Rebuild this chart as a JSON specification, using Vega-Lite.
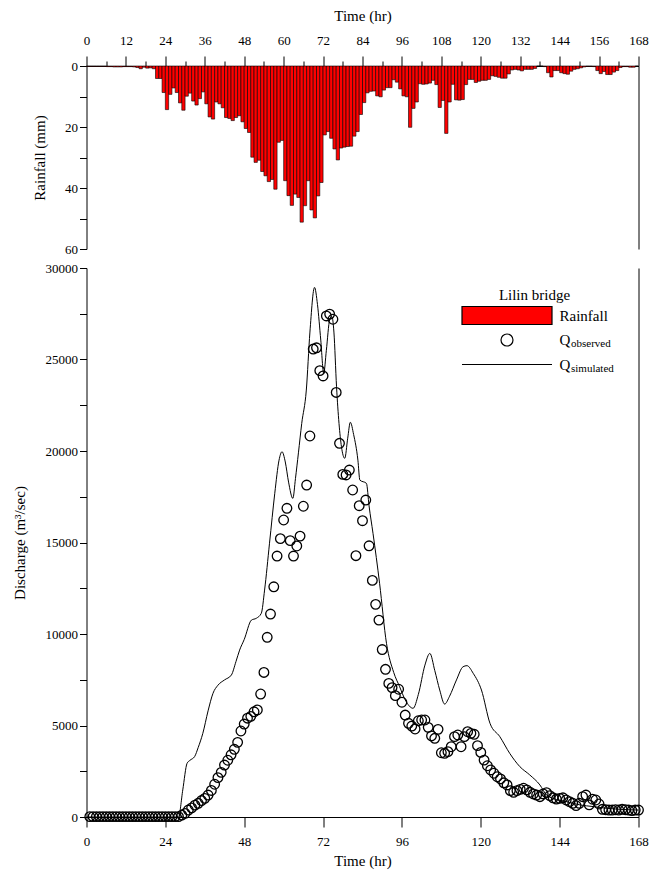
{
  "$schema": "https://vega.github.io/schema/vega-lite/v6.json",
  "background": "white",
  "padding": {"left": 11.5, "top": 8, "right": 5, "bottom": 5},
  "config": {
    "font": "Liberation Serif",
    "view": {"stroke": null},
    "axis": {"labelFont": "Liberation Serif", "titleFont": "Liberation Serif", "labelFontSize": 13, "titleFontSize": 15, "titleFontWeight": "normal", "labelColor": "black", "titleColor": "black", "domainColor": "black", "tickColor": "black", "grid": false, "domainWidth": 1, "tickWidth": 1}
  },
  "bounds": "flush",
  "spacing": 19,
  "resolve": {"scale": {"stroke": "independent", "fill": "independent", "shape": "independent", "opacity": "independent"}},
  "datasets": {
    "rain": [
      {"start":0,"end":1,"rain":0.1},{"start":1,"end":2,"rain":0.1},{"start":2,"end":3,"rain":0.1},{"start":3,"end":4,"rain":0.1},{"start":4,"end":5,"rain":0.1},{"start":5,"end":6,"rain":0.1},{"start":6,"end":7,"rain":0.2},{"start":7,"end":8,"rain":0.2},{"start":8,"end":9,"rain":0.3},{"start":9,"end":10,"rain":0.3},
      {"start":10,"end":11,"rain":0.3},{"start":11,"end":12,"rain":0.2},{"start":12,"end":13,"rain":0.2},{"start":13,"end":14,"rain":0.2},{"start":14,"end":15,"rain":0.3},{"start":15,"end":16,"rain":0.5},{"start":16,"end":17,"rain":0.9},{"start":17,"end":18,"rain":0.4},{"start":18,"end":19,"rain":0.7},{"start":19,"end":20,"rain":0.6},
      {"start":20,"end":21,"rain":0.9},{"start":21,"end":22,"rain":4.1},{"start":22,"end":23,"rain":4.1},{"start":23,"end":24,"rain":8.7},{"start":24,"end":25,"rain":14.3},{"start":25,"end":26,"rain":9.3},{"start":26,"end":27,"rain":7.2},{"start":27,"end":28,"rain":8.7},{"start":28,"end":29,"rain":12.1},{"start":29,"end":30,"rain":14.5},
      {"start":30,"end":31,"rain":9.9},{"start":31,"end":32,"rain":8.9},{"start":32,"end":33,"rain":11.5},{"start":33,"end":34,"rain":12.8},{"start":34,"end":35,"rain":10.7},{"start":35,"end":36,"rain":8.5},{"start":36,"end":37,"rain":12.4},{"start":37,"end":38,"rain":16.7},{"start":38,"end":39,"rain":17.4},{"start":39,"end":40,"rain":11.8},
      {"start":40,"end":41,"rain":12.4},{"start":41,"end":42,"rain":13.7},{"start":42,"end":43,"rain":16.9},{"start":43,"end":44,"rain":17.2},{"start":44,"end":45,"rain":17.9},{"start":45,"end":46,"rain":16.9},{"start":46,"end":47,"rain":16.3},{"start":47,"end":48,"rain":18.3},{"start":48,"end":49,"rain":20.5},{"start":49,"end":50,"rain":21.8},
      {"start":50,"end":51,"rain":29.9},{"start":51,"end":52,"rain":31.6},{"start":52,"end":53,"rain":30.9},{"start":53,"end":54,"rain":34.6},{"start":54,"end":55,"rain":36.0},{"start":55,"end":56,"rain":37.9},{"start":56,"end":57,"rain":37.2},{"start":57,"end":58,"rain":40.4},{"start":58,"end":59,"rain":25.0},{"start":59,"end":60,"rain":24.4},
      {"start":60,"end":61,"rain":37.6},{"start":61,"end":62,"rain":42.5},{"start":62,"end":63,"rain":45.7},{"start":63,"end":64,"rain":42.0},{"start":64,"end":65,"rain":43.1},{"start":65,"end":66,"rain":51.2},{"start":66,"end":67,"rain":45.8},{"start":67,"end":68,"rain":37.6},{"start":68,"end":69,"rain":47.2},{"start":69,"end":70,"rain":49.8},
      {"start":70,"end":71,"rain":42.6},{"start":71,"end":72,"rain":38.2},{"start":72,"end":73,"rain":22.6},{"start":73,"end":74,"rain":21.5},{"start":74,"end":75,"rain":23.7},{"start":75,"end":76,"rain":27.2},{"start":76,"end":77,"rain":30.8},{"start":77,"end":78,"rain":26.9},{"start":78,"end":79,"rain":26.6},{"start":79,"end":80,"rain":26.4},
      {"start":80,"end":81,"rain":26.3},{"start":81,"end":82,"rain":23.0},{"start":82,"end":83,"rain":21.5},{"start":83,"end":84,"rain":15.9},{"start":84,"end":85,"rain":12.0},{"start":85,"end":86,"rain":8.8},{"start":86,"end":87,"rain":8.3},{"start":87,"end":88,"rain":8.2},{"start":88,"end":89,"rain":9.8},{"start":89,"end":90,"rain":10.1},
      {"start":90,"end":91,"rain":7.9},{"start":91,"end":92,"rain":7.1},{"start":92,"end":93,"rain":7.1},{"start":93,"end":94,"rain":4.5},{"start":94,"end":95,"rain":5.3},{"start":95,"end":96,"rain":7.5},{"start":96,"end":97,"rain":9.8},{"start":97,"end":98,"rain":10.1},{"start":98,"end":99,"rain":20.1},{"start":99,"end":100,"rain":13.9},
      {"start":100,"end":101,"rain":11.8},{"start":101,"end":102,"rain":5.8},{"start":102,"end":103,"rain":6.0},{"start":103,"end":104,"rain":5.9},{"start":104,"end":105,"rain":5.6},{"start":105,"end":106,"rain":4.7},{"start":106,"end":107,"rain":6.1},{"start":107,"end":108,"rain":13.6},{"start":108,"end":109,"rain":11.3},{"start":109,"end":110,"rain":22.1},
      {"start":110,"end":111,"rain":11.8},{"start":111,"end":112,"rain":6.0},{"start":112,"end":113,"rain":11.1},{"start":113,"end":114,"rain":11.2},{"start":114,"end":115,"rain":11.0},{"start":115,"end":116,"rain":6.1},{"start":116,"end":117,"rain":4.4},{"start":117,"end":118,"rain":4.4},{"start":118,"end":119,"rain":5.4},{"start":119,"end":120,"rain":5.0},
      {"start":120,"end":121,"rain":4.7},{"start":121,"end":122,"rain":4.7},{"start":122,"end":123,"rain":4.4},{"start":123,"end":124,"rain":3.2},{"start":124,"end":125,"rain":3.4},{"start":125,"end":126,"rain":3.7},{"start":126,"end":127,"rain":4.0},{"start":127,"end":128,"rain":4.0},{"start":128,"end":129,"rain":2.6},{"start":129,"end":130,"rain":1.3},
      {"start":130,"end":131,"rain":1.1},{"start":131,"end":132,"rain":1.3},{"start":132,"end":133,"rain":1.6},{"start":133,"end":134,"rain":1.1},{"start":134,"end":135,"rain":1.1},{"start":135,"end":136,"rain":1.1},{"start":136,"end":137,"rain":0.8},{"start":137,"end":138,"rain":0.0},{"start":138,"end":139,"rain":0.0},{"start":139,"end":140,"rain":0.2},
      {"start":140,"end":141,"rain":2.2},{"start":141,"end":142,"rain":3.6},{"start":142,"end":143,"rain":1.5},{"start":143,"end":144,"rain":1.5},{"start":144,"end":145,"rain":2.2},{"start":145,"end":146,"rain":2.5},{"start":146,"end":147,"rain":2.7},{"start":147,"end":148,"rain":1.7},{"start":148,"end":149,"rain":1.1},{"start":149,"end":150,"rain":0.9},
      {"start":150,"end":151,"rain":0.6},{"start":151,"end":152,"rain":0.3},{"start":152,"end":153,"rain":0.1},{"start":153,"end":154,"rain":0.1},{"start":154,"end":155,"rain":0.2},{"start":155,"end":156,"rain":1.5},{"start":156,"end":157,"rain":2.5},{"start":157,"end":158,"rain":1.8},{"start":158,"end":159,"rain":2.8},{"start":159,"end":160,"rain":2.8},
      {"start":160,"end":161,"rain":2.0},{"start":161,"end":162,"rain":1.5},{"start":162,"end":163,"rain":0.5},{"start":163,"end":164,"rain":0.2},{"start":164,"end":165,"rain":0.2},{"start":165,"end":166,"rain":0.4},{"start":166,"end":167,"rain":0.4},{"start":167,"end":168,"rain":0.0}
    ],
    "obs": [
      {"series":"Q_observed","t":1,"q":20},{"series":"Q_observed","t":2,"q":20},{"series":"Q_observed","t":3,"q":20},{"series":"Q_observed","t":4,"q":20},{"series":"Q_observed","t":5,"q":20},{"series":"Q_observed","t":6,"q":20},{"series":"Q_observed","t":7,"q":20},{"series":"Q_observed","t":8,"q":20},{"series":"Q_observed","t":9,"q":20},{"series":"Q_observed","t":10,"q":20},
      {"series":"Q_observed","t":11,"q":20},{"series":"Q_observed","t":12,"q":20},{"series":"Q_observed","t":13,"q":20},{"series":"Q_observed","t":14,"q":20},{"series":"Q_observed","t":15,"q":20},{"series":"Q_observed","t":16,"q":20},{"series":"Q_observed","t":17,"q":20},{"series":"Q_observed","t":18,"q":20},{"series":"Q_observed","t":19,"q":20},{"series":"Q_observed","t":20,"q":20},
      {"series":"Q_observed","t":21,"q":20},{"series":"Q_observed","t":22,"q":20},{"series":"Q_observed","t":23,"q":20},{"series":"Q_observed","t":24,"q":20},{"series":"Q_observed","t":25,"q":20},{"series":"Q_observed","t":26,"q":20},{"series":"Q_observed","t":27,"q":20},{"series":"Q_observed","t":28,"q":20},{"series":"Q_observed","t":29,"q":100},{"series":"Q_observed","t":30,"q":200},
      {"series":"Q_observed","t":31,"q":380},{"series":"Q_observed","t":32,"q":500},{"series":"Q_observed","t":33,"q":650},{"series":"Q_observed","t":34,"q":750},{"series":"Q_observed","t":35,"q":900},{"series":"Q_observed","t":36,"q":1020},{"series":"Q_observed","t":37,"q":1200},{"series":"Q_observed","t":38,"q":1450},{"series":"Q_observed","t":39,"q":1790},{"series":"Q_observed","t":40,"q":2150},
      {"series":"Q_observed","t":41,"q":2440},{"series":"Q_observed","t":42,"q":2840},{"series":"Q_observed","t":43,"q":3100},{"series":"Q_observed","t":44,"q":3400},{"series":"Q_observed","t":45,"q":3700},{"series":"Q_observed","t":46,"q":4080},{"series":"Q_observed","t":47,"q":4700},{"series":"Q_observed","t":48,"q":5080},{"series":"Q_observed","t":49,"q":5400},{"series":"Q_observed","t":50,"q":5500},
      {"series":"Q_observed","t":51,"q":5750},{"series":"Q_observed","t":52,"q":5850},{"series":"Q_observed","t":53,"q":6720},{"series":"Q_observed","t":54,"q":7900},{"series":"Q_observed","t":55,"q":9820},{"series":"Q_observed","t":56,"q":11090},{"series":"Q_observed","t":57,"q":12580},{"series":"Q_observed","t":58,"q":14260},{"series":"Q_observed","t":59,"q":15210},{"series":"Q_observed","t":60,"q":16230},
      {"series":"Q_observed","t":61,"q":16870},{"series":"Q_observed","t":62,"q":15100},{"series":"Q_observed","t":63,"q":14260},{"series":"Q_observed","t":64,"q":14810},{"series":"Q_observed","t":65,"q":15350},{"series":"Q_observed","t":66,"q":16980},{"series":"Q_observed","t":67,"q":18140},{"series":"Q_observed","t":68,"q":20820},{"series":"Q_observed","t":69,"q":25570},{"series":"Q_observed","t":70,"q":25640},
      {"series":"Q_observed","t":71,"q":24390},{"series":"Q_observed","t":72,"q":24100},{"series":"Q_observed","t":73,"q":27380},{"series":"Q_observed","t":74,"q":27480},{"series":"Q_observed","t":75,"q":27200},{"series":"Q_observed","t":76,"q":23200},{"series":"Q_observed","t":77,"q":20420},{"series":"Q_observed","t":78,"q":18720},{"series":"Q_observed","t":79,"q":18690},{"series":"Q_observed","t":80,"q":18960},
      {"series":"Q_observed","t":81,"q":17870},{"series":"Q_observed","t":82,"q":14280},{"series":"Q_observed","t":83,"q":17010},{"series":"Q_observed","t":84,"q":16190},{"series":"Q_observed","t":85,"q":17320},{"series":"Q_observed","t":86,"q":14820},{"series":"Q_observed","t":87,"q":12930},{"series":"Q_observed","t":88,"q":11620},{"series":"Q_observed","t":89,"q":10760},{"series":"Q_observed","t":90,"q":9150},
      {"series":"Q_observed","t":91,"q":8070},{"series":"Q_observed","t":92,"q":7300},{"series":"Q_observed","t":93,"q":7070},{"series":"Q_observed","t":94,"q":6630},{"series":"Q_observed","t":95,"q":6980},{"series":"Q_observed","t":96,"q":6270},{"series":"Q_observed","t":97,"q":5570},{"series":"Q_observed","t":98,"q":5120},{"series":"Q_observed","t":99,"q":4970},{"series":"Q_observed","t":100,"q":4810},
      {"series":"Q_observed","t":101,"q":5260},{"series":"Q_observed","t":102,"q":5300},{"series":"Q_observed","t":103,"q":5300},{"series":"Q_observed","t":104,"q":4900},{"series":"Q_observed","t":105,"q":4430},{"series":"Q_observed","t":106,"q":4300},{"series":"Q_observed","t":107,"q":4790},{"series":"Q_observed","t":108,"q":3510},{"series":"Q_observed","t":109,"q":3480},{"series":"Q_observed","t":110,"q":3570},
      {"series":"Q_observed","t":111,"q":3840},{"series":"Q_observed","t":112,"q":4390},{"series":"Q_observed","t":113,"q":4480},{"series":"Q_observed","t":114,"q":3840},{"series":"Q_observed","t":115,"q":4390},{"series":"Q_observed","t":116,"q":4660},{"series":"Q_observed","t":117,"q":4570},{"series":"Q_observed","t":118,"q":4520},{"series":"Q_observed","t":119,"q":3900},{"series":"Q_observed","t":120,"q":3530},
      {"series":"Q_observed","t":121,"q":3110},{"series":"Q_observed","t":122,"q":2800},{"series":"Q_observed","t":123,"q":2570},{"series":"Q_observed","t":124,"q":2390},{"series":"Q_observed","t":125,"q":2200},{"series":"Q_observed","t":126,"q":2080},{"series":"Q_observed","t":127,"q":1870},{"series":"Q_observed","t":128,"q":1750},{"series":"Q_observed","t":129,"q":1440},{"series":"Q_observed","t":130,"q":1350},
      {"series":"Q_observed","t":131,"q":1440},{"series":"Q_observed","t":132,"q":1510},{"series":"Q_observed","t":133,"q":1570},{"series":"Q_observed","t":134,"q":1480},{"series":"Q_observed","t":135,"q":1350},{"series":"Q_observed","t":136,"q":1260},{"series":"Q_observed","t":137,"q":1200},{"series":"Q_observed","t":138,"q":1110},{"series":"Q_observed","t":139,"q":1260},{"series":"Q_observed","t":140,"q":1330},
      {"series":"Q_observed","t":141,"q":1170},{"series":"Q_observed","t":142,"q":1050},{"series":"Q_observed","t":143,"q":980},{"series":"Q_observed","t":144,"q":1020},{"series":"Q_observed","t":145,"q":1050},{"series":"Q_observed","t":146,"q":930},{"series":"Q_observed","t":147,"q":840},{"series":"Q_observed","t":148,"q":750},{"series":"Q_observed","t":149,"q":620},{"series":"Q_observed","t":150,"q":750},
      {"series":"Q_observed","t":151,"q":1110},{"series":"Q_observed","t":152,"q":1200},{"series":"Q_observed","t":153,"q":660},{"series":"Q_observed","t":154,"q":970},{"series":"Q_observed","t":155,"q":930},{"series":"Q_observed","t":156,"q":710},{"series":"Q_observed","t":157,"q":420},{"series":"Q_observed","t":158,"q":400},{"series":"Q_observed","t":159,"q":380},{"series":"Q_observed","t":160,"q":380},
      {"series":"Q_observed","t":161,"q":400},{"series":"Q_observed","t":162,"q":380},{"series":"Q_observed","t":163,"q":420},{"series":"Q_observed","t":164,"q":400},{"series":"Q_observed","t":165,"q":380},{"series":"Q_observed","t":166,"q":350},{"series":"Q_observed","t":167,"q":380},{"series":"Q_observed","t":168,"q":380}
    ],
    "sim": [
      {"series":"Q_simulated","t":0,"q":0},{"series":"Q_simulated","t":28,"q":0},{"series":"Q_simulated","t":29.3,"q":1480},{"series":"Q_simulated","t":30.6,"q":2930},{"series":"Q_simulated","t":31.5,"q":3100},{"series":"Q_simulated","t":32.9,"q":3300},{"series":"Q_simulated","t":34,"q":3800},{"series":"Q_simulated","t":35.4,"q":4570},{"series":"Q_simulated","t":37,"q":5800},{"series":"Q_simulated","t":38.5,"q":6760},
      {"series":"Q_simulated","t":40,"q":7200},{"series":"Q_simulated","t":42,"q":7490},{"series":"Q_simulated","t":44.1,"q":7760},{"series":"Q_simulated","t":45.5,"q":8500},{"series":"Q_simulated","t":46.6,"q":9120},{"series":"Q_simulated","t":48,"q":9700},{"series":"Q_simulated","t":50.2,"q":10760},{"series":"Q_simulated","t":51.7,"q":10860},{"series":"Q_simulated","t":53.2,"q":11130},{"series":"Q_simulated","t":54.2,"q":12400},
      {"series":"Q_simulated","t":55.7,"q":14960},{"series":"Q_simulated","t":57.3,"q":17690},{"series":"Q_simulated","t":58.6,"q":19500},{"series":"Q_simulated","t":59.5,"q":19960},{"series":"Q_simulated","t":60.5,"q":19400},{"series":"Q_simulated","t":61.5,"q":18300},{"series":"Q_simulated","t":62.8,"q":17410},{"series":"Q_simulated","t":63.6,"q":18500},{"series":"Q_simulated","t":64.5,"q":19900},{"series":"Q_simulated","t":65.5,"q":21500},
      {"series":"Q_simulated","t":66.9,"q":23330},{"series":"Q_simulated","t":68,"q":26500},{"series":"Q_simulated","t":69.4,"q":28940},{"series":"Q_simulated","t":70.3,"q":28000},{"series":"Q_simulated","t":71.3,"q":26060},{"series":"Q_simulated","t":72.2,"q":24240},{"series":"Q_simulated","t":73,"q":25500},{"series":"Q_simulated","t":74,"q":27160},{"series":"Q_simulated","t":74.7,"q":27340},{"series":"Q_simulated","t":75.3,"q":26500},
      {"series":"Q_simulated","t":76.1,"q":23510},{"series":"Q_simulated","t":77.6,"q":20230},{"series":"Q_simulated","t":78.6,"q":19600},{"series":"Q_simulated","t":79.5,"q":20700},{"series":"Q_simulated","t":80.3,"q":21570},{"series":"Q_simulated","t":81.3,"q":20900},{"series":"Q_simulated","t":82.6,"q":19500},{"series":"Q_simulated","t":83.2,"q":18410},{"series":"Q_simulated","t":85.2,"q":18230},{"series":"Q_simulated","t":86,"q":17000},
      {"series":"Q_simulated","t":87.2,"q":15500},{"series":"Q_simulated","t":89.2,"q":12770},{"series":"Q_simulated","t":91.3,"q":9490},{"series":"Q_simulated","t":93.5,"q":7900},{"series":"Q_simulated","t":95.3,"q":7120},{"series":"Q_simulated","t":97,"q":6400},{"series":"Q_simulated","t":99.4,"q":5940},{"series":"Q_simulated","t":101,"q":6700},{"series":"Q_simulated","t":103,"q":8300},{"series":"Q_simulated","t":104.5,"q":8940},
      {"series":"Q_simulated","t":106,"q":8000},{"series":"Q_simulated","t":107.5,"q":6940},{"series":"Q_simulated","t":109,"q":6170},{"series":"Q_simulated","t":110.5,"q":6600},{"series":"Q_simulated","t":112.6,"q":7490},{"series":"Q_simulated","t":114.6,"q":8210},{"series":"Q_simulated","t":115.8,"q":8270},{"series":"Q_simulated","t":117.7,"q":7850},{"series":"Q_simulated","t":120.2,"q":6940},{"series":"Q_simulated","t":122.8,"q":5120},
      {"series":"Q_simulated","t":125.8,"q":4390},{"series":"Q_simulated","t":128.8,"q":3480},{"series":"Q_simulated","t":131.9,"q":2750},{"series":"Q_simulated","t":134.9,"q":2300},{"series":"Q_simulated","t":138,"q":1750},{"series":"Q_simulated","t":140,"q":1200},{"series":"Q_simulated","t":142,"q":1020},{"series":"Q_simulated","t":146.1,"q":840},{"series":"Q_simulated","t":150.2,"q":660},{"series":"Q_simulated","t":154.2,"q":570},
      {"series":"Q_simulated","t":158.3,"q":475},{"series":"Q_simulated","t":162.3,"q":420},{"series":"Q_simulated","t":168,"q":380}
    ]
  },
  "vconcat": [
    {
      "width": 552,
      "height": 183,
      "data": {"name": "rain"},
      "layer": [
        {
          "mark": {"type": "rect", "fill": "#ff0000", "stroke": "black", "strokeWidth": 0.6},
          "encoding": {
            "x": {"field": "start", "type": "quantitative", "scale": {"domain": [0, 168], "nice": false},
              "axis": {"orient": "top", "title": "Time (hr)", "values": [0,6,12,18,24,30,36,42,48,54,60,66,72,78,84,90,96,102,108,114,120,126,132,138,144,150,156,162,168],
                "labelExpr": "datum.value % 12 === 0 ? datum.label : ''", "tickSize": {"condition": {"test": "datum.value % 12 === 0", "value": 10}, "value": 5},
                "labelPadding": 9, "titlePadding": 11, "labelFlush": false}},
            "x2": {"field": "end"},
            "y": {"field": "rain", "type": "quantitative", "scale": {"domain": [0, 60], "reverse": true, "nice": false},
              "axis": {"title": "Rainfall (mm)", "values": [0,10,20,30,40,50,60], "labelExpr": "datum.value % 20 === 0 ? datum.label : ''", "tickSize": 7, "labelPadding": 2, "titlePadding": 17.5}},
            "y2": {"datum": 0}
          }
        },
        {
          "mark": {"type": "rule", "strokeOpacity": 0},
          "encoding": {"y": {"field": "rain", "type": "quantitative", "axis": {"orient": "right", "labels": false, "ticks": false, "title": null, "domain": true}}}
        }
      ],
      "resolve": {"axis": {"y": "independent"}}
    },
    {
      "width": 552,
      "height": 549,
      "layer": [
        {
          "data": {"name": "sim"},
          "mark": {"type": "line", "strokeWidth": 1, "interpolate": "monotone"},
          "encoding": {
            "x": {"field": "t", "type": "quantitative", "scale": {"domain": [0, 168], "nice": false},
              "axis": {"title": "Time (hr)", "values": [0,6,12,18,24,30,36,42,48,54,60,66,72,78,84,90,96,102,108,114,120,126,132,138,144,150,156,162,168],
                "labelExpr": "datum.value % 12 === 0 ? datum.label : ''", "tickSize": {"condition": {"test": "datum.value % 12 === 0", "value": 10}, "value": 5},
                "labelPadding": 8, "titlePadding": 5, "labelFlush": false}},
            "y": {"field": "q", "type": "quantitative", "scale": {"domain": [0, 30000], "nice": false},
              "axis": {"title": "Discharge (m³/sec)", "values": [0,2500,5000,7500,10000,12500,15000,17500,20000,22500,25000,27500,30000], "format": "d",
                "labelExpr": "datum.value % 5000 === 0 ? datum.label : ''", "tickSize": 7, "labelPadding": 2, "titlePadding": 18}},
            "stroke": {"field": "series", "type": "nominal",
              "scale": {"domain": ["Rainfall", "Q_observed", "Q_simulated"], "range": ["black", "black", "black"]},
              "legend": {
                "title": "Lilin bridge", "orient": "none", "legendX": 374, "legendY": 20,
                "titleFont": "Liberation Serif", "titleFontSize": 15, "titleFontWeight": "normal", "titleColor": "black", "titleAnchor": "middle", "titlePadding": 5,
                "labelFont": "Liberation Serif", "labelFontSize": 15, "labelColor": "black",
                "labelExpr": "datum.value === 'Rainfall' ? 'Rainfall' : 'Q'",
                "symbolSize": 100, "symbolOffset": 39, "labelOffset": 45, "rowPadding": 1.5, "symbolStrokeWidth": 1.2, "symbolOpacity": 1
              }},
            "fill": {"field": "series", "type": "nominal",
              "scale": {"domain": ["Rainfall", "Q_observed", "Q_simulated"], "range": ["#ff0000", "transparent", "transparent"]},
              "legend": {
                "title": "Lilin bridge", "orient": "none", "legendX": 374, "legendY": 20,
                "titleFont": "Liberation Serif", "titleFontSize": 15, "titleFontWeight": "normal", "titleColor": "black", "titleAnchor": "middle", "titlePadding": 5,
                "labelFont": "Liberation Serif", "labelFontSize": 15, "labelColor": "black",
                "labelExpr": "datum.value === 'Rainfall' ? 'Rainfall' : 'Q'",
                "symbolSize": 100, "symbolOffset": 39, "labelOffset": 45, "rowPadding": 1.5, "symbolStrokeWidth": 1.2, "symbolOpacity": 1
              }},
            "opacity": {"field": "series", "type": "nominal",
              "scale": {"domain": ["Rainfall", "Q_observed", "Q_simulated", "none"], "range": [1, 1, 1, 1]},
              "legend": {
                "title": "\u00a0", "orient": "none", "legendX": 374, "legendY": 24,
                "titleFont": "Liberation Serif", "titleFontSize": 15, "titleFontWeight": "normal", "titleAnchor": "start", "titlePadding": 5,
                "labelFont": "Liberation Serif", "labelFontSize": 11, "labelColor": "black",
                "labelExpr": "datum.value === 'Q_observed' ? 'observed' : datum.value === 'Q_simulated' ? 'simulated' : ''",
                "symbolType": "M-9,-1.8M9,1.8", "symbolSize": 100, "symbolOffset": 39, "labelOffset": 59.5, "rowPadding": 1.5, "symbolStrokeWidth": 1.2,
                "symbolFillColor": "transparent", "symbolStrokeColor": "transparent"
              }}
          }
        },
        {
          "data": {"name": "obs"},
          "mark": {"type": "point", "filled": false, "size": 64, "strokeWidth": 1.3, "opacity": 1},
          "encoding": {
            "x": {"field": "t", "type": "quantitative"},
            "y": {"field": "q", "type": "quantitative", "axis": {"orient": "right", "labels": false, "ticks": false, "title": null, "domain": true}},
            "stroke": {"field": "series", "type": "nominal"},
            "fill": {"field": "series", "type": "nominal"},
            "opacity": {"field": "series", "type": "nominal"},
            "shape": {"field": "series", "type": "nominal",
              "scale": {"domain": ["Rainfall", "Q_observed", "Q_simulated"], "range": ["M-9,-1.8H9V1.8H-9Z", "M1.2,0A1.2,1.2 0 1 1 -1.2,0A1.2,1.2 0 1 1 1.2,0ZM0,-1.8M0,1.8", "M-9,0H9M0,-1.8M0,1.8"]},
              "legend": {
                "title": "Lilin bridge", "orient": "none", "legendX": 374, "legendY": 20,
                "titleFont": "Liberation Serif", "titleFontSize": 15, "titleFontWeight": "normal", "titleColor": "black", "titleAnchor": "middle", "titlePadding": 5,
                "labelFont": "Liberation Serif", "labelFontSize": 15, "labelColor": "black",
                "labelExpr": "datum.value === 'Rainfall' ? 'Rainfall' : 'Q'",
                "symbolSize": 100, "symbolOffset": 39, "labelOffset": 45, "rowPadding": 1.5, "symbolStrokeWidth": 1.2, "symbolOpacity": 1
              }}
          }
        }
      ],
      "resolve": {"axis": {"y": "independent"}}
    }
  ]
}
